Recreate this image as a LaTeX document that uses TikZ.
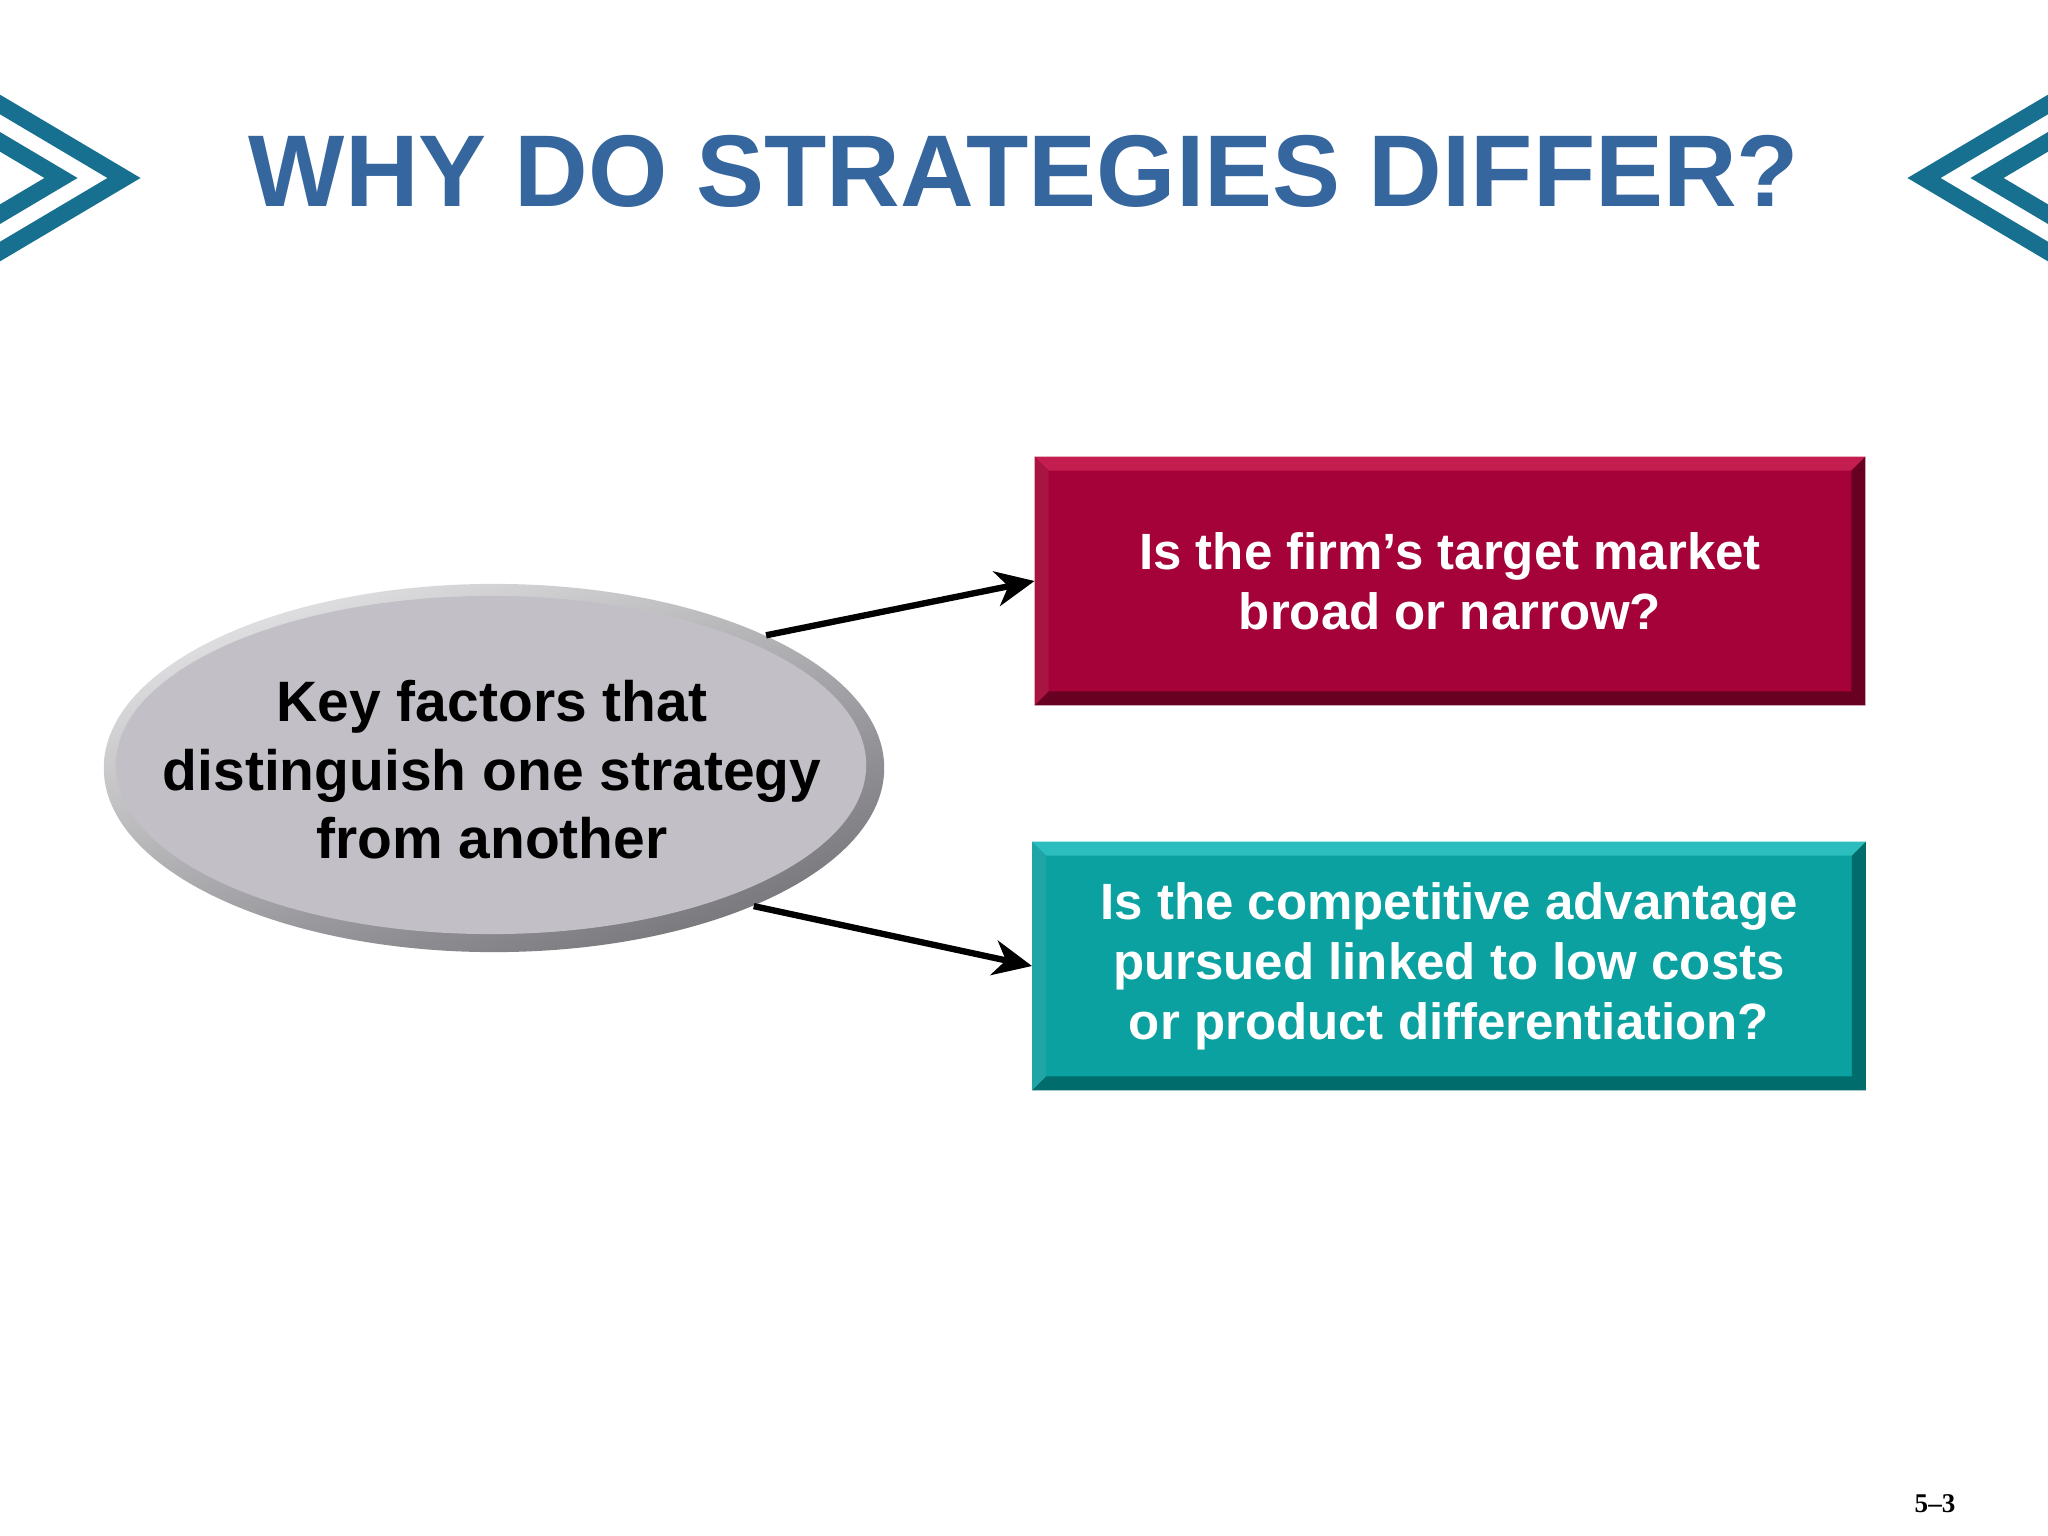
\documentclass[tikz,border=0pt]{standalone}
\usepackage{fontspec}
\setmainfont{Liberation Sans}
\newfontfamily\pagefont{Liberation Serif}
\usetikzlibrary{arrows.meta}
\usetikzlibrary{shapes}
\usetikzlibrary{calc}
\usetikzlibrary{positioning}

\definecolor{chevblue}{RGB}{23,112,143}
\definecolor{titleblue}{RGB}{54,102,158}
\definecolor{redbox}{RGB}{165,2,58}
\definecolor{redlight}{RGB}{196,30,80}
\definecolor{reddark}{RGB}{104,0,34}
\definecolor{tealbox}{RGB}{10,161,160}
\definecolor{teallight}{RGB}{44,190,190}
\definecolor{tealdark}{RGB}{0,108,108}
\definecolor{keygray}{RGB}{194,192,198}
\definecolor{keyrimlight}{RGB}{226,226,228}
\definecolor{keyrimdark}{RGB}{118,117,122}

\begin{document}
\begin{tikzpicture}[x=0.01cm, y=-0.01cm, >={Stealth[length=11pt,width=10pt,inset=3.4pt]},
    chevron/.style={draw=chevblue, line width=4.8pt},
    question/.style={inner sep=0pt, text=white, align=center,
      font=\bfseries\fontsize{14.5}{17.1}\selectfont, minimum height=2.47cm},
    link/.style={->, line width=1.8pt}]
  \path[use as bounding box, fill=white] (0,0) rectangle (2048,1536);

  % chevrons left and right of the title
  \foreach \tip in {124,61} {
    \draw[chevron] (-20,{178-(\tip+20)*0.593}) -- (\tip,178) -- (-20,{178+(\tip+20)*0.593});
    \draw[chevron] (2068,{178-(\tip+20)*0.593}) -- ({2048-\tip},178) -- (2068,{178+(\tip+20)*0.593});
  }
  \node[font=\bfseries\fontsize{29}{34}\selectfont, text=titleblue, anchor=base] (title) at (1024,206) {WHY DO STRATEGIES DIFFER?};

  % oval
  \node[ellipse, minimum width=7.8cm, minimum height=3.68cm, inner sep=0pt,
        top color=keyrimlight, bottom color=keyrimdark, shading angle=20,
        path picture={\fill[keygray] ([shift={(-0.03cm,0.03cm)}]path picture bounding box.center)
          ellipse [x radius=3.75cm, y radius=1.69cm];}] (key) at (494,768) {};
  \node[font=\bfseries\fontsize{16.2}{19.5}\selectfont, align=center] (keytext) at (492,770)
    {Key factors that\\distinguish one strategy\\from another};

  % boxes
  \node[question, fill=redbox, minimum width=8.29cm] (target) at (1450,581)
    {Is the firm’s target market\\broad or narrow?};
  \node[question, fill=tealbox, minimum width=8.32cm] (advantage) at (1449,966)
    {Is the competitive advantage\\pursued linked to low costs\\or product differentiation?};
  \foreach \b/\lt/\dk in {target/redlight/reddark, advantage/teallight/tealdark} {
    \fill[\lt] (\b.north west) -- (\b.north east) -- ([shift={(-0.14cm,-0.14cm)}]\b.north east)
      -- ([shift={(0.14cm,-0.14cm)}]\b.north west) -- cycle;
    \fill[\dk] (\b.south west) -- (\b.south east) -- ([shift={(-0.14cm,0.14cm)}]\b.south east)
      -- ([shift={(0.14cm,0.14cm)}]\b.south west) -- cycle;
    \fill[\dk] (\b.north east) -- (\b.south east) -- ([shift={(-0.14cm,0.14cm)}]\b.south east)
      -- ([shift={(-0.14cm,-0.14cm)}]\b.north east) -- cycle;
    \fill[\dk!30!\lt] (\b.north west) -- (\b.south west) -- ([shift={(0.14cm,0.14cm)}]\b.south west)
      -- ([shift={(0.14cm,-0.14cm)}]\b.north west) -- cycle;
  }

  \draw[link] (key.26) -- (target.west);
  \draw[link] (key.-28) -- (advantage.west);

  \node[font=\pagefont\bfseries\fontsize{7.7}{9}\selectfont] (page) at (1935,1504) {5–3};
\end{tikzpicture}
\end{document}
